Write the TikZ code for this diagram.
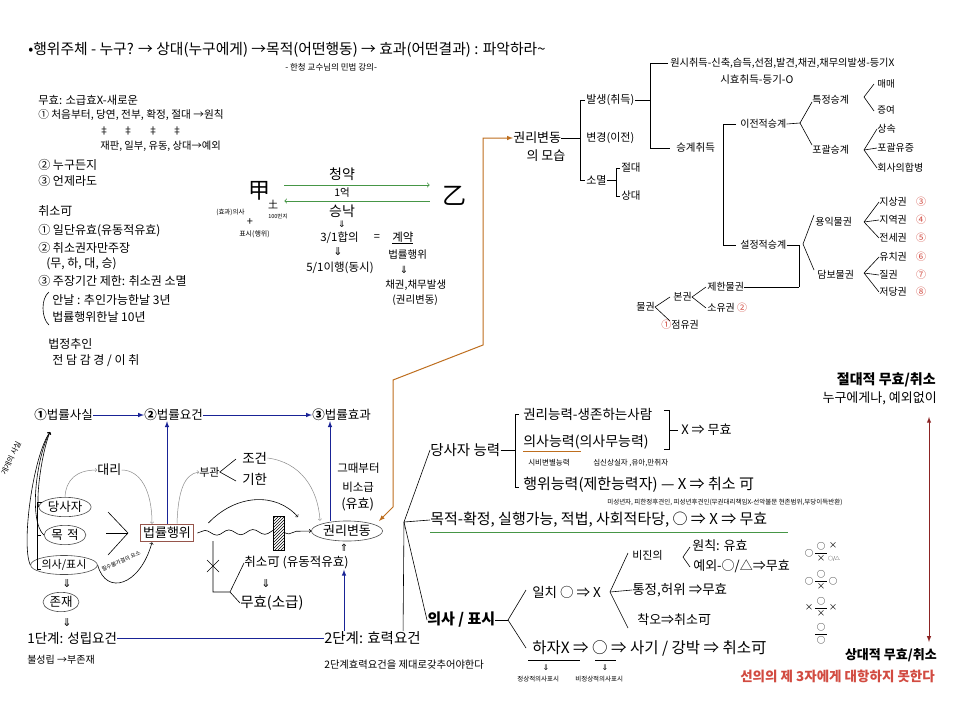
\documentclass[tikz,border=0pt]{standalone}
\usepackage{fontspec}
\setmainfont{Noto Sans CJK KR}
\newfontfamily\symfont{DejaVu Sans}
\usetikzlibrary{shapes.geometric,decorations.pathmorphing,patterns}
\definecolor{lawblue}{RGB}{25,35,150}
\definecolor{lawgreen}{RGB}{70,150,70}
\definecolor{laworange}{RGB}{190,110,30}
\definecolor{lawred}{RGB}{210,75,65}
\definecolor{darkred}{RGB}{140,35,35}
\definecolor{boxbrown}{RGB}{150,85,75}
\newcommand{\fsz}[1]{\fontsize{#1}{#1}\selectfont}
\newcommand{\dnarr}{{\symfont ⇓}}
\newcommand{\uparr}{{\symfont ⇑}}

\begin{document}
\begin{tikzpicture}[x=1pt,y=-1pt,line width=0.6pt]
    \tikzstyle{txt}=[inner sep=0pt,anchor=west]
    \tikzstyle{oval}=[ellipse,draw=black!70,inner sep=1.2pt]
    \tikzstyle{blue arrow}=[-latex,draw=lawblue,line width=1pt]
    \tikzstyle{gray arrow}=[->,draw=black!45,line width=0.5pt]
    \tikzstyle{green arrow}=[->,draw=lawgreen,line width=0.8pt]
    \fill[white] (0,0) rectangle (966,702);
    \useasboundingbox (0,0) rectangle (966,702);

    % title
    \node[txt,font=\fsz{14.8}] (T-1) at (28,50) {•행위주체 - 누구? → 상대(누구에게) →목적(어떤행동) → 효과(어떤결과) : 파악하라\textasciitilde};
    \node[txt,font=\fsz{8.5}] (T-2) at (285,67) {- 한청 교수님의 민법 강의-};

    % notes on the left
    \node[txt,font=\fsz{11.3}] (A-1) at (38,100) {무효: 소급효X-새로운};
    \node[txt,font=\fsz{10.7}] (A-2) at (38,115) {① 처음부터, 당연, 전부, 확정, 절대 →원칙};
    \foreach \num/\x in {1/104, 2/128, 3/153, 4/177}
        \node[font=\fsz{10}] (D-\num) at (\x,131) {‡};
    \node[txt,font=\fsz{10.3}] (A-3) at (100,146) {재판, 일부, 유동, 상대→예외};
    \foreach \num/\x/\y/\t in {4/38/165/{② 누구든지}, 5/38/181/{③ 언제라도}, 6/38/211/{취소可},
                               7/38/231/{① 일단유효(유동적유효)}, 8/38/248/{② 취소권자만주장},
                               9/46/264/{(무, 하, 대, 승)}, 10/38/281/{③ 주장기간 제한: 취소권 소멸},
                               11/52/300/{안날 : 추인가능한날 3년}, 12/52/317/{법률행위한날 10년}, 13/48/344/{법정추인}}
        \node[txt,font=\fsz{12}] (A-\num) at (\x,\y) {\t};
    \node[txt,font=\fsz{12}] (A-14) at (52,361) {전 담 감 경 / 이 취};
    \draw (49,292) .. controls (41,298) and (41,318) .. (49,325);

    % contract
    \node[font=\fsz{22},inner sep=0pt] (Gap) at (259,191) {甲};
    \node[font=\fsz{10},inner sep=0pt] (Gap-1) at (273,204) {土};
    \node[txt,font=\fsz{5.5}] (Gap-2) at (268,216) {100번지};
    \node[txt,font=\fsz{6.5}] (Gap-3) at (216,212) {(효과)의사};
    \node[font=\fsz{11},inner sep=0pt] (Gap-4) at (250,222) {+};
    \node[txt,font=\fsz{7}] (Gap-5) at (239,234) {표시(행위)};
    \node[font=\fsz{24},inner sep=0pt] (Eul) at (454,196) {乙};
    \draw[green arrow] ([shift={(14,-6)}]Gap.east) -- ([shift={(-12,-11)}]Eul.west);
    \draw[green arrow] ([shift={(-12,5)}]Eul.west) -- ([shift={(14,10)}]Gap.east);
    \node[font=\fsz{14},inner sep=0pt] (C-1) at (342,174) {청약};
    \node[font=\fsz{10.5},inner sep=0pt] (C-2) at (342,193) {1억};
    \node[font=\fsz{14},inner sep=0pt] (C-3) at (342,211) {승낙};
    \node[font=\fsz{9},inner sep=0pt] (C-4) at (342,224) {\dnarr};
    \node[txt,font=\fsz{11.5}] (C-5) at (320,238) {3/1합의};
    \node[font=\fsz{11},inner sep=0pt] (C-6) at (377,238) {=};
    \node[txt,font=\fsz{11.5}] (C-7) at (392,238) {\underline{계약}};
    \node[font=\fsz{11},inner sep=0pt] (C-8) at (338,252) {\dnarr};
    \node[txt,font=\fsz{11.5}] (C-9) at (306,268) {5/1이행(동시)};
    \node[txt,font=\fsz{10.5}] (C-10) at (388,255) {법률행위};
    \node[font=\fsz{10},inner sep=0pt] (C-11) at (404,270) {\dnarr};
    \node[txt,font=\fsz{10.5}] (C-12) at (385,285) {채권,채무발생};
    \node[txt,font=\fsz{10.5}] (C-13) at (392,300) {(권리변동)};

    % change of rights
    \node[txt,font=\fsz{13}] (RC-0) at (513,138) {권리변동};
    \node[font=\fsz{13},inner sep=0pt] (RC-00) at (546,156) {의 모습};
    \draw (RC-0.east) -- (580,138);
    \draw (585,100) -- (580,100) -- (580,180) -- (585,180);
    \foreach \num/\y/\t in {1/100/발생(취득), 2/138/변경(이전), 3/180/소멸}
        \node[txt,font=\fsz{11}] (RC-\num) at (586,\y) {\t};
    \draw (RC-3.east) -- (616,180);
    \draw (620,168) -- (616,168) -- (616,196) -- (620,196);
    \node[txt,font=\fsz{10.5}] (RC-4) at (621,168) {절대};
    \node[txt,font=\fsz{10.5}] (RC-5) at (621,196) {상대};
    \draw (RC-1.east) -- (650,100);
    \draw (668,63) -- (650,63) -- (650,148) -- (670,148);
    \node[txt,font=\fsz{10.2}] (AQ-1) at (670,63) {원시취득-신축,습득,선점,발견,채권,채무의발생-등기X};
    \node[txt,font=\fsz{10.5}] (AQ-2) at (720,80) {시효취득-등기-O};
    \node[txt,font=\fsz{10.5}] (AQ-3) at (676,148) {승계취득};
    \draw (736,124) -- (723,124) -- (723,245) -- (736,245);
    \node[txt,font=\fsz{10}] (SC-1) at (740,124) {이전적승계};
    \node[txt,font=\fsz{10}] (SC-2) at (740,245) {설정적승계};
    \draw (SC-1.east) -- (800,123);
    \draw (812,102) -- (800,123) -- (812,145);
    \node[txt,font=\fsz{10}] (SC-3) at (812,100) {특정승계};
    \node[txt,font=\fsz{10}] (SC-4) at (812,150) {포괄승계};
    \draw (874,84) -- (864,97) -- (874,111);
    \node[txt,font=\fsz{9.5}] (SP-1) at (877,84) {매매};
    \node[txt,font=\fsz{9.5}] (SP-2) at (877,110) {증여};
    \foreach \num/\y/\t in {1/129/상속, 2/148/포괄유증, 3/168/회사의합병} {
        \node[txt,font=\fsz{10}] (GN-\num) at (877,\y) {\t};
        \draw (864,150) -- (GN-\num.west);
    }

    % real rights
    \draw (SC-2.east) -- (799,245) -- (799,287);
    \draw (814,215) -- (803,244) -- (814,270);
    \node[txt,font=\fsz{10}] (RR-1) at (815,222) {용익물권};
    \node[txt,font=\fsz{10}] (RR-2) at (817,275) {담보물권};
    \foreach \num/\y/\t/\v in {3/202/지상권/222, 4/220/지역권/222, 5/238/전세권/222,
                               6/257/유치권/273, 7/275/질권/273, 8/292/저당권/273} {
        \node[txt,font=\fsz{10}] (RR-\num) at (879,\y) {\t};
        \node[font=\fsz{10},text=lawred,inner sep=0pt] (RN-\num) at (921,\y) {\ifcase\num\or\or\or ③\or ④\or ⑤\or ⑥\or ⑦\or ⑧\fi};
        \draw (864,\v) -- (RR-\num.west);
    }
    \node[txt,font=\fsz{10}] (RT-1) at (636,307) {물권};
    \draw (670,297) -- (RT-1.east) -- (670,321);
    \node[txt,font=\fsz{10}] (RT-2) at (673,297) {본권};
    \draw (706,287) -- (RT-2.east) -- (706,308);
    \node[txt,font=\fsz{10}] (RT-3) at (707,287) {제한물권};
    \node[txt,font=\fsz{10}] (RT-4) at (707,308) {소유권 \textcolor{lawred}{②}};
    \node[txt,font=\fsz{10}] (RT-5) at (661,325) {\textcolor{lawred}{①}점유권};
    \draw (RT-3.east) -- (799,287);

    % orange link
    \draw[laworange,line width=1pt,latex-latex] (RC-0.west) -- (483,138) -- (483,345) -- (393,380) -- (393,507) -- (379,521);

    % law facts chain
    \node[txt,font=\fsz{12.5}] (F-1) at (34,415) {\textbf{①}법률사실};
    \node[txt,font=\fsz{12.5}] (F-2) at (144,415) {\textbf{②}법률요건};
    \node[txt,font=\fsz{12.5}] (F-3) at (312,415) {\textbf{③}법률효과};
    \draw[blue arrow] (F-1.east) -- (F-2.west);
    \draw[blue arrow] (F-2.east) -- (F-3.west);
    \node[font=\fsz{7.5},rotate=65,inner sep=0pt] (F-0) at (11,458) {개개의 사실};
    \coordinate (F-in) at (50,432);

    \node[oval,font=\fsz{12.5}] (P-1) at (65,507) {당사자};
    \node[oval,font=\fsz{12.5}] (P-2) at (65,535) {목\,\,적};
    \node[oval,font=\fsz{11}] (P-3) at (64,565) {의사/표시};
    \draw (42,502) -- (37,502) -- (37,569) -- (41,569);
    \draw (37,535) -- (41,535);
    \draw[->] (P-1.west) .. controls (36,495) and (42,452) .. (F-in);
    \draw[->] (P-2.west) .. controls (28,520) and (37,455) .. (F-in);
    \draw[->] (P-3.west) .. controls (21,545) and (33,456) .. (F-in);

    \node[txt,font=\fsz{13}] (Q-1) at (97,470) {대리};
    \node[draw=boxbrown,line width=0.9pt,fill=white,inner sep=3pt,font=\fsz{13}] (Act) at (167,533) {법률행위};
    \draw[gray arrow] (P-1.north) .. controls (66,480) and (76,470) .. (Q-1.west);
    \draw[gray arrow] (Q-1.east) .. controls (140,470) and (152,490) .. ([xshift=-15pt]Act.north);
    \draw (108,512) -- (128,533) -- (108,555);
    \draw (106,533) -- (128,533);
    \draw[blue arrow] (Act.north) -- (Act.north |- F-2.south);
    \node[font=\fsz{5.5},rotate=24,inner sep=0pt] (P-4) at (121,561) {필수불가결의 요소};
    \draw[->] (P-3.east) .. controls (106,596) and (140,586) .. ([xshift=-15pt]Act.south);
    \node[font=\fsz{11},inner sep=0pt] (P-5) at (67,583) {\dnarr};
    \node[oval,font=\fsz{12.5}] (P-6) at (61,602) {존재};
    \node[font=\fsz{11},inner sep=0pt] (P-7) at (67,622) {\dnarr};
    \node[txt,font=\fsz{13.5}] (G-1) at (27,638) {1단계: 성립요건};
    \node[txt,font=\fsz{10}] (G-2) at (27,660) {불성립 →부존재};
    \node[txt,font=\fsz{14.5}] (G-3) at (324,638) {2단계: 효력요건};
    \node[txt,font=\fsz{10.3}] (G-4) at (324,665) {2단계효력요건을 제대로갖추어야한다};
    \draw[lawblue,line width=1pt] (G-1.east) -- (G-3.west);

    % accessory terms and effect
    \node[txt,font=\fsz{11}] (H-1) at (199,472) {부관};
    \draw (236,459) -- (H-1.east) -- (236,481);
    \node[txt,font=\fsz{13.5}] (H-2) at (242,458) {조건};
    \node[txt,font=\fsz{13.5}] (H-3) at (242,479) {기한};
    \node[oval,font=\fsz{13},minimum width=66pt] (RV) at (347,531) {권리변동};
    \draw[gray arrow] ([xshift=10pt]Act.north) .. controls (178,492) and (184,474) .. (H-1.west);
    \draw[gray arrow] (H-2.east) .. controls (300,462) and (318,488) .. ([xshift=-27pt]RV.north);
    \draw[->] ([shift={(14,-10)}]Act.east) .. controls (236,494) and (276,492) .. (298,517);
    \draw[decorate,decoration={snake,amplitude=2.5pt,segment length=24pt,post length=8pt},->] ([xshift=3pt]Act.east) -- (RV.west);
    \draw[fill=white] (273,516) rectangle (284,550);
    \fill[pattern=north east lines] (273,516) rectangle (284,550);
    \draw[blue arrow] ([xshift=-17pt]RV.north) -- ([xshift=-17pt]RV.north |- F-3.south);
    \node[txt,font=\fsz{11.5}] (V-1) at (337,468) {그때부터};
    \node[txt,font=\fsz{11.5}] (V-2) at (342,487) {비소급};
    \node[txt,font=\fsz{13}] (V-3) at (341,504) {(유효)};
    \node[font=\fsz{10},inner sep=0pt] (RV-u) at (344,548) {\uparr};
    \node[txt,font=\fsz{12.5}] (I-1) at (244,563) {취소可 (유동적유효)};
    \node[font=\fsz{11},inner sep=0pt] (I-2) at (266,583) {\dnarr};
    \node[txt,font=\fsz{14.5}] (I-3) at (240,603) {무효(소급)};
    \draw (213,541) -- (213,592) -- (230,592) -- (I-1.west);
    \draw (230,592) -- (I-3.west);
    \draw (207,560) -- (219,572) (207,572) -- (219,560);
    \draw[blue arrow] ([xshift=20pt]G-3.north west) -- ([xshift=20pt]G-3.north west |- I-1.south);

    % requirements of validity
    \coordinate (J) at (404,522);
    \node[txt,font=\fsz{14.5}] (K-1) at (430,450) {당사자 능력};
    \node[txt,font=\fsz{15}] (K-2) at (430,520) {목적-확정, 실행가능, 적법, 사회적타당, ○ ⇒ X ⇒ 무효};
    \node[txt,font=\fsz{15}] (K-3) at (427,620) {\textbf{의사 / 표시}};
    \draw ([xshift=-18pt]G-3.north east) -- (J);
    \draw (J) -- (K-1.west);
    \draw (J) -- (K-2.west);
    \draw (J) -- (K-3.west);
    \draw[lawgreen,line width=0.8pt] (430,532) -- (788,532);
    \draw (K-1.east) -- (515,450);
    \draw (519,414) -- (515,414) -- (515,487) -- (519,487);
    \node[txt,font=\fsz{13.5}] (M-1) at (523,414) {권리능력-생존하는사람};
    \node[txt,font=\fsz{14}] (M-2) at (523,442) {의사능력(의사무능력)};
    \draw[laworange,line width=0.9pt] ([yshift=-2pt]M-2.south west) -- ++(58,0);
    \draw (664,410) -- (669,410) -- (669,449) -- (664,449);
    \draw (669,430) -- (678,430);
    \node[txt,font=\fsz{13}] (M-3) at (681,430) {X ⇒ 무효};
    \node[txt,font=\fsz{7.5}] (M-4) at (528,463) {시비변별능력};
    \node[txt,font=\fsz{7.5}] (M-5) at (593,463) {심신상실자 ,유아,만취자};
    \node[txt,font=\fsz{15}] (M-6) at (523,485) {행위능력(제한능력자) — X ⇒ 취소 可};
    \node[txt,font=\fsz{6.5}] (M-7) at (607,502) {미성년자, 피한정후견인, 피성년후견인(무권대리책임X-선악불문 현존범위,부당이득반환)};

    % will and expression
    \draw (K-3.east) -- (508,620);
    \draw (526,590) -- (508,620) -- (526,648);
    \node[txt,font=\fsz{13.5}] (N-1) at (532,592) {일치 ○ ⇒ X};
    \node[txt,font=\fsz{15.5}] (N-5) at (532,648) {하자X ⇒ ○ ⇒ 사기 / 강박 ⇒ 취소可};
    \draw (528,660) -- (580,660);
    \draw (595,660) -- (616,660);
    \node[font=\fsz{8},inner sep=0pt] (N-6) at (546,668) {\dnarr};
    \node[font=\fsz{8},inner sep=0pt] (N-7) at (605,668) {\dnarr};
    \node[txt,font=\fsz{6.5}] (N-8) at (517,679) {정상적의사표시};
    \node[txt,font=\fsz{6.5}] (N-9) at (575,679) {비정상적의사표시};
    \node[txt,font=\fsz{11}] (N-2) at (632,555) {비진의};
    \node[txt,font=\fsz{13.5}] (N-3) at (632,590) {통정,허위 ⇒무효};
    \node[txt,font=\fsz{13}] (N-4) at (637,620) {착오⇒취소可};
    \draw (628,553) -- (610,592) -- (628,628);
    \draw (610,592) -- (N-3.west);
    \draw (690,547) -- (683,557) -- (690,567);
    \node[txt,font=\fsz{13}] (N-10) at (692,546) {원칙: 유효};
    \node[txt,font=\fsz{13}] (N-11) at (693,566) {예외-○/△⇒무효};

    % symbols
    \foreach \num/\y/\b in {1/553/×, 2/581/×, 3/608/×, 4/634/○} {
        \node[font=\fsz{8.5},inner sep=0pt] (ST-\num) at (821,\y-7) {○};
        \node[font=\fsz{8.5},inner sep=0pt] (SB-\num) at (821,\y+6) {\b};
        \draw (815,\y) -- (827,\y);
    }
    \node[font=\fsz{8.5},inner sep=0pt] (SL-1) at (809,553) {○};
    \node[font=\fsz{8.5},inner sep=0pt] (SR-1) at (833,546) {×};
    \node[font=\fsz{5},inner sep=0pt] (SR-0) at (834,559) {○/△};
    \node[font=\fsz{8.5},inner sep=0pt] (SL-2) at (809,581) {○};
    \node[font=\fsz{8.5},inner sep=0pt] (SR-2) at (833,581) {○};
    \node[font=\fsz{8.5},inner sep=0pt] (SL-3) at (809,608) {×};
    \node[font=\fsz{8.5},inner sep=0pt] (SR-3) at (833,608) {×};

    % absolute / relative
    \node[inner sep=0pt,anchor=east,font=\fsz{14}] (W-1) at (936,380) {\textbf{절대적 무효/취소}};
    \node[inner sep=0pt,anchor=east,font=\fsz{13}] (W-2) at (937,398) {누구에게나, 예외없이};
    \node[inner sep=0pt,anchor=east,font=\fsz{13}] (W-3) at (937,655) {\textbf{상대적 무효/취소}};
    \node[txt,font=\fsz{13.5},text=lawred] (W-4) at (740,676) {\textbf{선의의 제 3자에게 대항하지 못한다}};
    \draw[darkred,line width=1pt,latex-latex] ([shift={(-8,12)}]W-2.south east) -- ([shift={(-8,-6)}]W-3.north east);
\end{tikzpicture}
\end{document}
